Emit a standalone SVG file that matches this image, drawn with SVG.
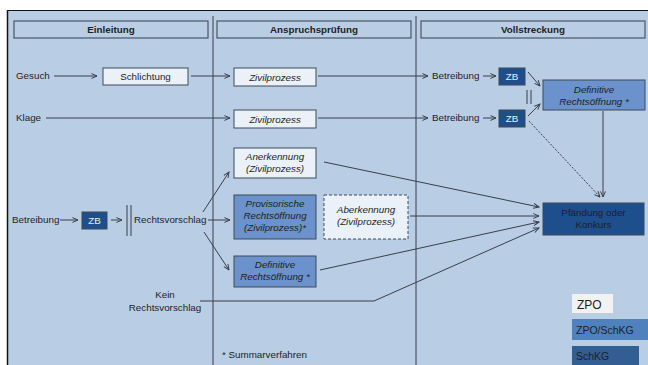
<svg xmlns="http://www.w3.org/2000/svg" width="648" height="365" viewBox="0 0 648 365">
<defs>
<marker id="ah" viewBox="0 0 10 10" refX="9" refY="5" markerWidth="7" markerHeight="7" orient="auto" markerUnits="userSpaceOnUse">
<path d="M1,1.5 L9,5 L1,8.5" fill="none" stroke="#3a3f48" stroke-width="1.4"/>
</marker>
</defs>
<style>
text{font-family:"Liberation Sans",Arial,sans-serif;font-size:9.8px;fill:#1e1e1e}
.b{font-weight:bold}
.i{font-style:italic}
.hd{fill:#b9cde5;stroke:#4a5563;stroke-width:1.2}
.lt{fill:#eaf1f8;stroke:#3e4a58;stroke-width:1}
.md{fill:#6b92cc;stroke:#3e4a58;stroke-width:1}
.dk{fill:#1f4e8c;stroke:#3e4a58;stroke-width:1}
.dash{fill:#eaf1f8;stroke:#3e4a58;stroke-width:1;stroke-dasharray:3,2}
.c line,.c polyline,.c path{stroke:#3a3f48;stroke-width:1;fill:none}
.w{fill:#e8eef6}
.lg{font-size:10.5px}
</style>
<rect width="648" height="365" fill="#ffffff"/>
<rect x="7" y="10" width="641" height="355" fill="#b9cde5"/>
<line x1="7" y1="10.5" x2="648" y2="10.5" stroke="#111" stroke-width="1.2"/>
<line x1="7.5" y1="10" x2="7.5" y2="365" stroke="#111" stroke-width="1.5"/>
<line x1="213" y1="16" x2="213" y2="365" stroke="#3a3f48" stroke-width="1"/>
<line x1="416" y1="16" x2="416" y2="365" stroke="#3a3f48" stroke-width="1"/>

<g id="h1"><rect class="hd" x="14" y="21" width="194" height="17"/><text class="b" x="111" y="33" text-anchor="middle">Einleitung</text></g>
<g id="h2"><rect class="hd" x="217" y="21" width="194" height="17"/><text class="b" x="314" y="33" text-anchor="middle">Anspruchsprüfung</text></g>
<g id="h3"><rect class="hd" x="421" y="21" width="224" height="17"/><text class="b" x="533" y="33" text-anchor="middle">Vollstreckung</text></g>

<g class="c" id="connectors">
<line x1="54" y1="76" x2="97" y2="76" marker-end="url(#ah)"/>
<line x1="191" y1="76" x2="230" y2="76" marker-end="url(#ah)"/>
<line x1="318" y1="76" x2="428" y2="76" marker-end="url(#ah)"/>
<line x1="483" y1="76" x2="496" y2="76" marker-end="url(#ah)"/>
<line x1="46" y1="118" x2="230" y2="118" marker-end="url(#ah)"/>
<line x1="318" y1="118" x2="428" y2="118" marker-end="url(#ah)"/>
<line x1="483" y1="118" x2="496" y2="118" marker-end="url(#ah)"/>
<line x1="528" y1="72" x2="540" y2="86" marker-end="url(#ah)"/>
<line x1="528" y1="116" x2="540" y2="104" marker-end="url(#ah)"/>
<line x1="527" y1="90" x2="527" y2="104"/>
<line x1="531" y1="90" x2="531" y2="104"/>
<line x1="529" y1="121" x2="600" y2="197" stroke-dasharray="2,1.5" marker-end="url(#ah)"/>
<line x1="603" y1="111" x2="603" y2="197" marker-end="url(#ah)"/>
<line x1="60" y1="220" x2="78" y2="220" marker-end="url(#ah)"/>
<line x1="111" y1="220" x2="122" y2="220" marker-end="url(#ah)"/>
<line x1="127" y1="205" x2="127" y2="236" stroke-width="1.3"/>
<line x1="131" y1="205" x2="131" y2="236" stroke-width="1.3"/>
<line x1="203" y1="212" x2="229" y2="172" marker-end="url(#ah)"/>
<line x1="208" y1="220" x2="230" y2="220" marker-end="url(#ah)"/>
<line x1="204" y1="232" x2="229" y2="270" marker-end="url(#ah)"/>
<line x1="324" y1="162" x2="539" y2="207" marker-end="url(#ah)"/>
<line x1="410" y1="216" x2="539" y2="216" marker-end="url(#ah)"/>
<line x1="320" y1="270" x2="539" y2="222" marker-end="url(#ah)"/>
<polyline points="200,301 374,301 539,228" marker-end="url(#ah)"/>
</g>

<g id="gesuch"><text x="16" y="79">Gesuch</text></g>
<g id="klage"><text x="16" y="121">Klage</text></g>
<g id="schlichtung"><rect class="lt" x="103" y="68" width="85" height="17"/><text x="145.5" y="80" text-anchor="middle">Schlichtung</text></g>
<g id="zp1"><rect class="lt" x="234" y="68" width="82" height="18"/><text class="i" x="275" y="80.5" text-anchor="middle">Zivilprozess</text></g>
<g id="zp2"><rect class="lt" x="234" y="110" width="82" height="18"/><text class="i" x="275" y="122.5" text-anchor="middle">Zivilprozess</text></g>
<g id="betr1"><text x="432" y="79">Betreibung</text></g>
<g id="betr2"><text x="432" y="121">Betreibung</text></g>
<g id="zb1"><rect class="dk" x="499" y="68" width="26" height="17"/><text class="w" x="512" y="80" text-anchor="middle">ZB</text></g>
<g id="zb2"><rect class="dk" x="499" y="110" width="26" height="17"/><text class="w" x="512" y="122" text-anchor="middle">ZB</text></g>
<g id="defr1"><rect class="md" x="543" y="80" width="102" height="30"/><text class="i" x="594" y="92.5" text-anchor="middle">Definitive</text><text class="i" x="594" y="104.5" text-anchor="middle">Rechtsöffnung *</text></g>
<g id="pfaendung"><rect class="dk" x="543" y="203" width="101" height="32"/><text x="593.5" y="216" text-anchor="middle">Pfändung oder</text><text x="593.5" y="228" text-anchor="middle">Konkurs</text></g>
<g id="anerkennung"><rect class="lt" x="234" y="148" width="82" height="30"/><text class="i" x="275" y="160" text-anchor="middle">Anerkennung</text><text class="i" x="275" y="172" text-anchor="middle">(Zivilprozess)</text></g>
<g id="provr"><rect class="md" x="234" y="195" width="82" height="44"/><text class="i" x="275" y="207" text-anchor="middle">Provisorische</text><text class="i" x="275" y="219" text-anchor="middle">Rechtsöffnung</text><text class="i" x="275" y="231" text-anchor="middle">(Zivilprozess)*</text></g>
<g id="aberkennung"><rect class="dash" x="324" y="195" width="84" height="44"/><text class="i" x="366" y="213" text-anchor="middle">Aberkennung</text><text class="i" x="366" y="225" text-anchor="middle">(Zivilprozess)</text></g>
<g id="defr2"><rect class="md" x="234" y="256" width="82" height="31"/><text class="i" x="275" y="268" text-anchor="middle">Definitive</text><text class="i" x="275" y="280" text-anchor="middle">Rechtsöffnung *</text></g>
<g id="betr3"><text x="12" y="223">Betreibung</text></g>
<g id="zb3"><rect class="dk" x="82" y="212" width="25" height="17"/><text class="w" x="94.5" y="224" text-anchor="middle">ZB</text></g>
<g id="rv"><text x="134" y="223">Rechtsvorschlag</text></g>
<g id="keinrv"><text x="165" y="298" text-anchor="middle">Kein</text><text x="165" y="311" text-anchor="middle">Rechtsvorschlag</text></g>
<g id="note"><text x="222" y="358">* Summarverfahren</text></g>

<g id="legend">
<rect x="572" y="294" width="41" height="19" fill="#f2f2f2"/><text x="577" y="308.5" style="font-size:12px">ZPO</text>
<rect x="572" y="319" width="76" height="21" fill="#4f81bd"/><text class="lg" x="576" y="333.5">ZPO/SchKG</text>
<rect x="572" y="346" width="67" height="19" fill="#335e94"/><text class="lg" x="576" y="359.5">SchKG</text>
</g>
</svg>
